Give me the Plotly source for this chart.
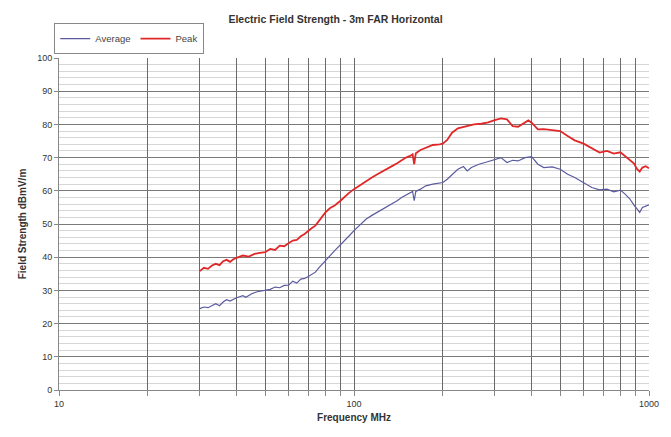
import plotly.graph_objects as go

avg_freq = [30, 31, 32, 33, 34, 35, 36, 37, 38, 40, 42, 43, 45, 47, 50, 52, 54, 56, 58, 60,
            62, 64, 66, 68, 70, 72, 74, 76, 78, 80, 83, 86, 90, 93, 96, 100, 105, 110, 115, 120,
            125, 130, 135, 140, 145, 150, 155, 158, 160, 162, 168, 175, 185, 195, 200, 207, 215, 225, 235, 242,
            250, 265, 280, 300, 315, 330, 345, 360, 380, 400, 420, 440, 470, 500, 530, 560, 600, 640, 680, 720,
            760, 800, 830, 860, 890, 910, 930, 950, 975, 1000]
avg_val = [24.5, 25.0, 24.8, 25.5, 26.0, 25.4, 26.5, 27.2, 26.8, 27.8, 28.4, 27.9, 29.0, 29.6, 30.0, 30.3, 31.0, 30.8, 31.5, 31.6,
           32.8, 32.2, 33.4, 33.6, 34.2, 34.8, 35.5, 36.8, 37.8, 39.0, 40.5, 42.0, 43.7, 45.0, 46.3, 48.0, 49.8, 51.5, 52.6, 53.5,
           54.5, 55.2, 56.0, 57.0, 58.0, 58.7, 59.3, 59.8, 57.0, 59.8, 60.5, 61.5, 62.0, 62.2, 62.5, 63.5, 65.0, 66.5, 67.3, 66.0,
           67.0, 68.0, 68.6, 69.5, 70.0, 68.5, 69.2, 69.0, 70.0, 70.3, 68.0, 67.0, 67.2, 66.5, 65.0, 64.0, 62.5, 61.0, 60.3, 60.5,
           59.7, 60.2, 59.0, 57.6, 55.7, 54.5, 53.5, 55.0, 55.5, 55.8]

peak_freq = [30, 31, 32, 33, 34, 35, 36, 37, 38, 39, 40, 42, 44, 46, 48, 50, 52, 54, 56, 58,
             60, 62, 64, 66, 68, 70, 72, 74, 76, 78, 80, 83, 86, 90, 93, 96, 100, 105, 110, 115,
             120, 125, 130, 135, 140, 145, 150, 155, 158, 160, 162, 168, 175, 185, 195, 200, 207, 215, 225, 240,
             255, 270, 285, 300, 315, 330, 345, 360, 375, 390, 400, 420, 440, 470, 500, 530, 560, 600, 640, 680,
             720, 760, 800, 830, 860, 890, 910, 930, 950, 975, 1000]
peak_val = [35.8, 36.8, 36.5, 37.5, 38.0, 37.6, 38.8, 39.2, 38.6, 39.4, 39.8, 40.5, 40.2, 41.0, 41.3, 41.5, 42.5, 42.2, 43.5, 43.3,
            44.2, 45.0, 45.2, 46.3, 47.0, 48.0, 48.8, 49.5, 51.0, 52.3, 53.5, 54.8, 55.6, 57.0, 58.2, 59.3, 60.5, 61.8, 63.0, 64.0,
            65.0, 65.8, 66.8, 67.5, 68.3, 69.2, 70.0, 70.5, 71.0, 68.0, 71.3, 72.3, 73.0, 73.8, 74.0, 74.2, 75.3, 77.5, 78.8, 79.5,
            80.0, 80.2, 80.6, 81.3, 81.8, 81.5, 79.5, 79.3, 80.2, 81.2, 80.5, 78.5, 78.6, 78.2, 78.0, 76.5, 75.2, 74.2, 72.8, 71.5,
            72.0, 71.2, 71.6, 70.5, 69.3, 68.2, 66.6, 65.8, 67.0, 67.4, 66.8]

x_grid = [10, 20, 30, 40, 50, 60, 70, 80, 90, 100, 200, 300, 400, 500, 600, 700, 800, 900, 1000]
x_labels = ["10", "", "", "", "", "", "", "", "", "100", "", "", "", "", "", "", "", "", "1000"]

font = "Liberation Sans, Arial, sans-serif"

fig = go.Figure()
fig.add_trace(go.Scatter(x=avg_freq, y=avg_val, mode="lines", name="Average",
                         line=dict(color="#5a5aa0", width=1.2)))
fig.add_trace(go.Scatter(x=peak_freq, y=peak_val, mode="lines", name="Peak",
                         line=dict(color="#e02828", width=1.8)))

fig.update_layout(
    width=671, height=437,
    margin=dict(l=59, r=22, t=58, b=47),
    paper_bgcolor="white", plot_bgcolor="white",
    font=dict(family=font, size=9, color="#333"),
    title=dict(text="<b>Electric Field Strength - 3m FAR Horizontal</b>", x=0.5, xanchor="center",
               y=0.955, yanchor="middle", font=dict(size=10.5, color="#333")),
    legend=dict(orientation="h", x=-0.008, y=1.105, xanchor="left", yanchor="top",
                bordercolor="#888", borderwidth=1, bgcolor="white",
                font=dict(size=9.5, color="#444"), itemwidth=30, tracegroupgap=0),
    showlegend=True,
)
fig.update_xaxes(type="log", range=[1, 3], tickvals=x_grid, ticktext=x_labels,
                 showgrid=True, gridcolor="#6a6a6a", gridwidth=1,
                 ticks="outside", ticklen=5, tickcolor="#888",
                 showline=True, linecolor="#888", zeroline=False,
                 title=dict(text="<b>Frequency MHz</b>", font=dict(size=10, color="#333"), standoff=6))
fig.update_yaxes(range=[0, 100], dtick=10, showgrid=True, gridcolor="#7a7a7a", gridwidth=1,
                 minor=dict(dtick=2, showgrid=True, gridcolor="#d6d6d6", gridwidth=1),
                 ticks="outside", ticklen=4, tickcolor="#888",
                 showline=True, linecolor="#888", zeroline=False,
                 title=dict(text="<b>Field Strength dBmV/m</b>", font=dict(size=10, color="#333"), standoff=8))

fig.write_html("out.html")
